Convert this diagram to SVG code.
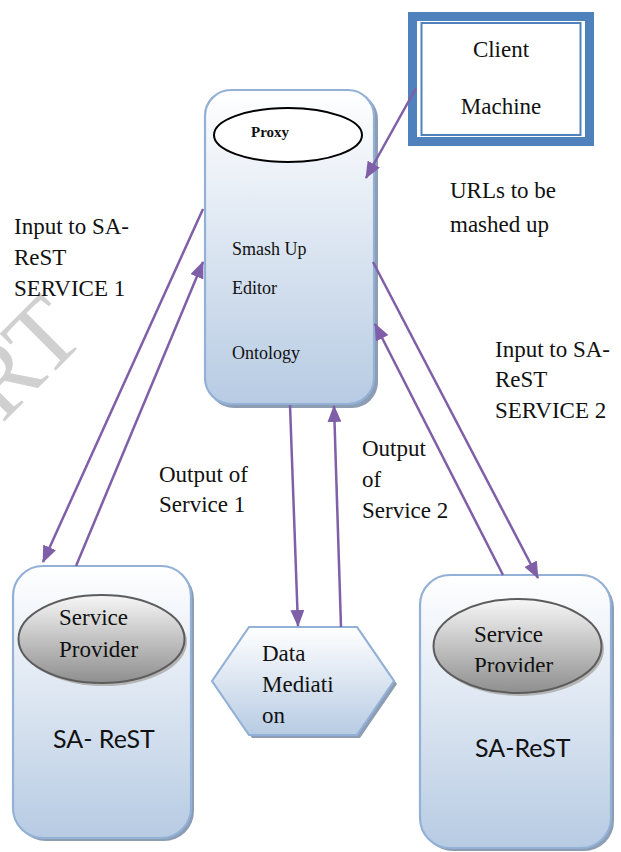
<svg xmlns="http://www.w3.org/2000/svg" width="621" height="852" viewBox="0 0 621 852">
<defs>
<linearGradient id="boxGrad" x1="0" y1="0" x2="0" y2="1">
<stop offset="0" stop-color="#ffffff"/>
<stop offset="1" stop-color="#b7cbe3"/>
</linearGradient>
<linearGradient id="ellGrad" x1="0" y1="0" x2="0" y2="1">
<stop offset="0" stop-color="#f7f7f7"/>
<stop offset="1" stop-color="#8e8e8e"/>
</linearGradient>
<marker id="arr" markerUnits="userSpaceOnUse" markerWidth="18" markerHeight="14" refX="16" refY="7" orient="auto">
<path d="M0,0 L17,7 L0,14 Z" fill="#7f5fa7"/>
</marker>
<clipPath id="clipProv"><rect x="430" y="605" width="180" height="67"/></clipPath>
</defs>
<style>
.box{fill:url(#boxGrad);stroke:#93b1d6;stroke-width:2.2}
.shadow{fill:#8c9db4}
.ell{fill:url(#ellGrad);stroke:#5c5c5c;stroke-width:2}
.t{font-family:"Liberation Serif","Times New Roman",serif;font-size:23px;fill:#111}
.ts{font-family:"Liberation Serif","Times New Roman",serif;font-size:18px;fill:#111}
.sans{font-family:Lato,"Liberation Sans",sans-serif;font-size:25px;fill:#111}
.con{stroke:#7f5fa7;stroke-width:2.5;fill:none}
</style>
<rect width="621" height="852" fill="#ffffff"/>

<text transform="translate(88,338) rotate(-45)" text-anchor="end" font-family="Liberation Serif,serif" font-size="100" fill="#c4c4c4" fill-opacity="0.8">RT</text>

<g id="client">
<rect x="412.5" y="16.5" width="177" height="125" fill="#ffffff" stroke="#4f81bd" stroke-width="9"/>
<rect x="421.5" y="23" width="159" height="112" fill="none" stroke="#4f81bd" stroke-width="2"/>
<text class="t" x="501" y="57" text-anchor="middle">Client</text>
<text class="t" x="501" y="114" text-anchor="middle">Machine</text>
</g>

<g id="proxy">
<rect class="shadow" x="208" y="93" width="170" height="315" rx="26"/>
<rect class="box" x="205" y="90" width="169" height="314" rx="26"/>
<ellipse cx="288" cy="135" rx="74" ry="27" fill="#ffffff" stroke="#000" stroke-width="2"/>
<text x="251" y="137" font-family="Liberation Serif,serif" font-weight="bold" font-size="15" fill="#111">Proxy</text>
<text class="ts" x="232" y="255">Smash Up</text>
<text class="ts" x="232" y="294">Editor</text>
<text class="ts" x="232" y="359">Ontology</text>
</g>

<g id="sarest1">
<rect class="shadow" x="16" y="569" width="178" height="272" rx="30"/>
<rect class="box" x="13" y="566" width="178" height="272" rx="30"/>
<ellipse cx="104" cy="642" rx="83" ry="44" fill="#b5b5b5"/>
<ellipse class="ell" cx="101.5" cy="639" rx="83" ry="44"/>
<text class="t" x="59" y="625">Service</text>
<text class="t" x="59" y="657">Provider</text>
<text class="sans" x="53" y="748">SA- ReST</text>
</g>

<g id="mediation">
<polygon class="shadow" points="215,684 252,630 360,630 397,684 360,738 252,738"/>
<polygon class="box" points="212,681 249,627 357,627 394,681 357,735 249,735"/>
<text class="t" x="262" y="661">Data</text>
<text class="t" x="262" y="692">Mediati</text>
<text class="t" x="262" y="723">on</text>
</g>

<g id="sarest2">
<rect class="shadow" x="423" y="578" width="191" height="273" rx="30"/>
<rect class="box" x="420" y="575" width="191" height="273" rx="30"/>
<ellipse cx="520" cy="649" rx="84" ry="47" fill="#b5b5b5"/>
<ellipse class="ell" cx="517.5" cy="646" rx="84" ry="47"/>
<text class="t" x="474" y="642">Service</text>
<text class="t" x="474" y="673" clip-path="url(#clipProv)">Provider</text>
<text class="sans" x="475" y="757">SA-ReST</text>
</g>

<g id="connectors">
<line class="con" x1="416" y1="88" x2="366" y2="178" marker-end="url(#arr)"/>
<line class="con" x1="203" y1="209" x2="43" y2="562" marker-end="url(#arr)"/>
<line class="con" x1="76" y1="566" x2="203" y2="262" marker-end="url(#arr)"/>
<line class="con" x1="290" y1="405" x2="298" y2="626" marker-end="url(#arr)"/>
<line class="con" x1="341" y1="627" x2="334" y2="406" marker-end="url(#arr)"/>
<line class="con" x1="373" y1="262" x2="538" y2="578" marker-end="url(#arr)"/>
<line class="con" x1="503" y1="575" x2="375" y2="324" marker-end="url(#arr)"/>
</g>

<g id="labels">
<text class="t" x="450" y="198">URLs to be</text>
<text class="t" x="450" y="232">mashed up</text>
<text class="t" x="14" y="234">Input to SA-</text>
<text class="t" x="14" y="265">ReST</text>
<text class="t" x="14" y="296">SERVICE 1</text>
<text class="t" x="495" y="357">Input to SA-</text>
<text class="t" x="495" y="387">ReST</text>
<text class="t" x="495" y="418">SERVICE 2</text>
<text class="t" x="159" y="482">Output of</text>
<text class="t" x="159" y="512">Service 1</text>
<text class="t" x="362" y="456">Output</text>
<text class="t" x="362" y="487">of</text>
<text class="t" x="362" y="518">Service 2</text>
</g>
</svg>
